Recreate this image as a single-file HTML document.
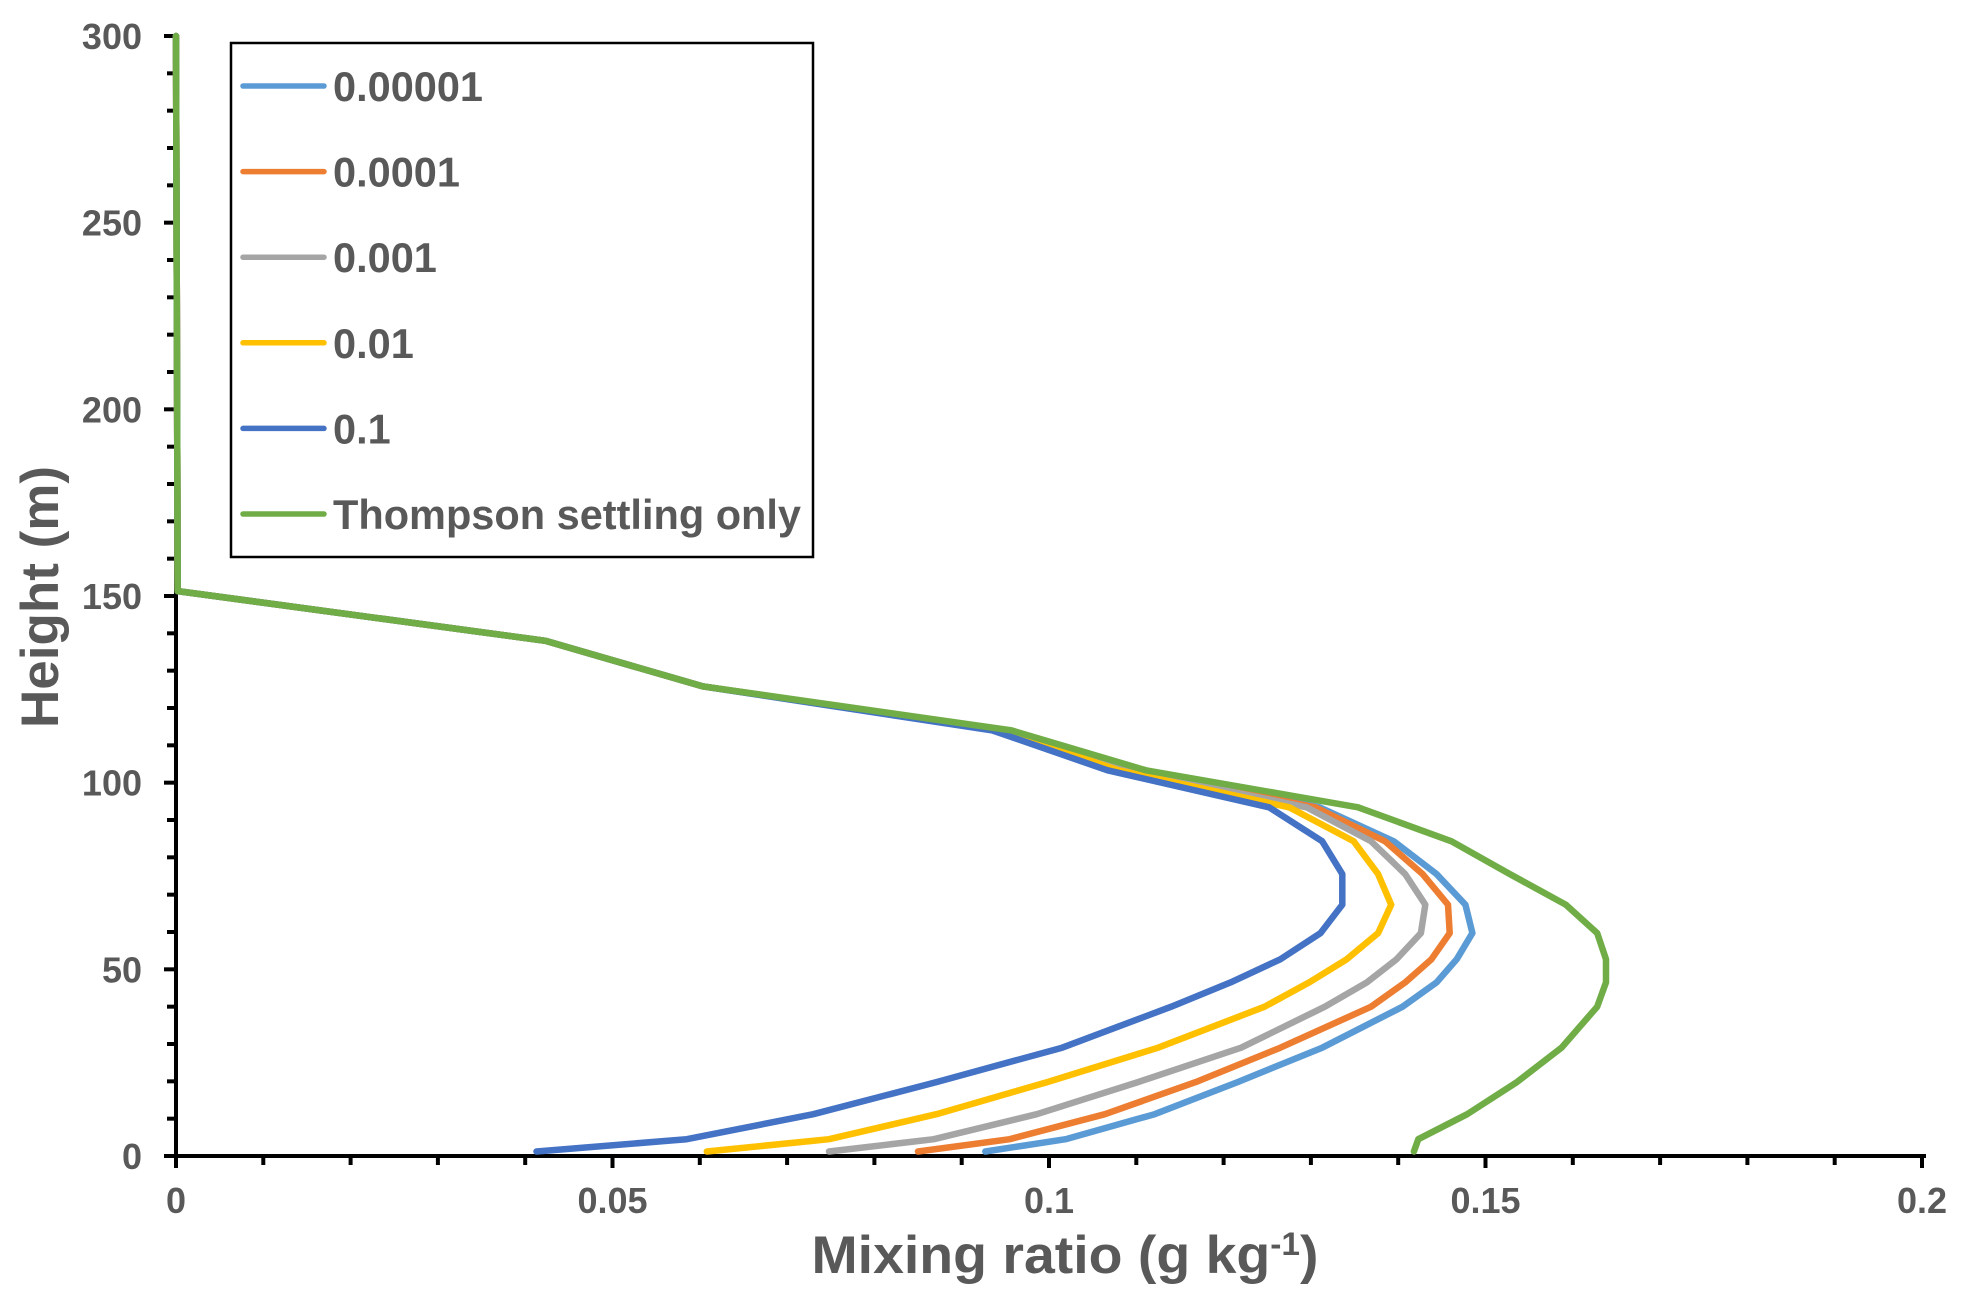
<!DOCTYPE html>
<html><head><meta charset="utf-8"><style>
html,body{margin:0;padding:0;background:#fff;}
svg{display:block;font-family:"Liberation Sans",Arial,sans-serif;font-weight:bold;}
</style></head><body>
<svg id="chart" width="1970" height="1306" viewBox="0 0 1970 1306">
<g id="grid-axes"></g>
<g id="series"></g>
<g id="legend"></g>
<text x="1065" y="1273" text-anchor="middle" font-size="53" fill="#595959" textLength="507" lengthAdjust="spacingAndGlyphs">Mixing ratio  (g kg<tspan dy="-18" font-size="32">-1</tspan><tspan dy="18">)</tspan></text>
<text transform="translate(58,597) rotate(-90)" text-anchor="middle" font-size="53" fill="#595959">Height (m)</text>
</svg>
<script>
const heights = [1.2,4.5,11.2,19.8,29,40,46.5,52.7,59.7,67.3,75.5,84.3,93.4,103.3,114,125.8,138,151.3,300];
const seriesNames = ["0.00001","0.0001","0.001","0.01","0.1","Thompson settling only"];
const seriesColors = ["#5B9BD5","#ED7D31","#A5A5A5","#FFC000","#4472C4","#70AD47"];
const s00001 = [0.0927,0.1019,0.1121,0.1216,0.1313,0.1405,0.1444,0.1467,0.1485,0.1477,0.1444,0.1395,0.1310,0.1100,0.0950,0.0603,0.0423,0.0002,0];
const s0001  = [0.0850,0.0955,0.1064,0.1168,0.1265,0.1369,0.1408,0.1438,0.1459,0.1457,0.1428,0.1385,0.1305,0.1095,0.0948,0.0603,0.0423,0.0002,0];
const s001   = [0.0748,0.0868,0.0986,0.1102,0.1220,0.1316,0.1364,0.1398,0.1426,0.1431,0.1408,0.1369,0.1295,0.1090,0.0946,0.0603,0.0423,0.0002,0];
const s01    = [0.0608,0.0748,0.0871,0.0998,0.1125,0.1247,0.1298,0.1341,0.1377,0.1392,0.1377,0.1349,0.1275,0.1080,0.0945,0.0603,0.0423,0.0002,0];
const s1     = [0.0413,0.0585,0.0730,0.0871,0.1015,0.1140,0.1208,0.1265,0.1311,0.1336,0.1336,0.1313,0.1252,0.1067,0.0935,0.0603,0.0423,0.0002,0];
const sThompson = [0.1418,0.1423,0.1479,0.1536,0.1587,0.1628,0.1638,0.1638,0.1628,0.1592,0.1528,0.1461,0.1354,0.1111,0.0957,0.0603,0.0423,0.0002,0];
const xTicks = [0,0.05,0.1,0.15,0.2];
const xTickLabels = ["0","0.05","0.1","0.15","0.2"];
const yTicks = [0,50,100,150,200,250,300];
const yTickLabels = ["0","50","100","150","200","250","300"];

const NS="http://www.w3.org/2000/svg";
const X0=176,X1=1922,Y0=1156,Y1=36;
function sx(v){return X0+(v-0)/(0.2-0)*(X1-X0);}
function sy(v){return Y0-(v-0)/(300-0)*(Y0-Y1);}
function mk(tag,attrs,parent){const e=document.createElementNS(NS,tag);for(const k in attrs)e.setAttribute(k,attrs[k]);parent.appendChild(e);return e;}

const axes=document.getElementById('grid-axes');
for(let v=0;v<=300;v+=10){
  const major=v%50===0;
  const t=mk('line',{x1:major?X0-12:X0-9,x2:X0,y1:sy(v),y2:sy(v),stroke:'#000','stroke-width':4},axes);
  
  
}
for(let i=0;i<=20;i++){
  const v=i*0.01;const major=i%5===0;
  const t=mk('line',{x1:sx(v),x2:sx(v),y1:Y0,y2:Y0+(major?12:9),stroke:'#000','stroke-width':4},axes);
  
  
}
yTicks.forEach((v,i)=>{
  const t=mk('text',{x:142,y:sy(v)+13,'text-anchor':'end','font-size':36,fill:'#595959'},axes);
  t.textContent=yTickLabels[i];
  
  
});
xTicks.forEach((v,i)=>{
  const t=mk('text',{x:sx(v),y:1213,'text-anchor':'middle','font-size':36,fill:'#595959'},axes);
  t.textContent=xTickLabels[i];
  
  
});

const sg=document.getElementById('series');
const allSeries=[s00001,s0001,s001,s01,s1,sThompson];
allSeries.forEach((vals,si)=>{
  const pts=vals.map((v,i)=>sx(v).toFixed(1)+','+sy(heights[i]).toFixed(1)).join(' ');
  const p=mk('polyline',{points:pts,fill:'none',stroke:seriesColors[si],'stroke-width':6.5,'stroke-linejoin':'round','stroke-linecap':'round'},sg);
  
  
});

const ax=mk('line',{x1:X0,x2:X0,y1:Y1,y2:Y0+2,stroke:'#000','stroke-width':4},axes);


const bx=mk('line',{x1:X0-12,x2:X1+4,y1:Y0,y2:Y0,stroke:'#000','stroke-width':4},axes);



const lg=document.getElementById('legend');
const box=mk('rect',{x:231,y:43,width:582,height:514,fill:'#fff',stroke:'#000','stroke-width':2.5},lg);


seriesNames.forEach((n,i)=>{
  const y=86+i*85.6;
  const l=mk('line',{x1:243,x2:324,y1:y,y2:y,stroke:seriesColors[i],'stroke-width':5.5,'stroke-linecap':'round'},lg);
  
  
  const t=mk('text',{x:333,y:y+15,'font-size':41.5,fill:'#595959'},lg);
  t.textContent=n;
  
  
});
</script>
</body></html>
